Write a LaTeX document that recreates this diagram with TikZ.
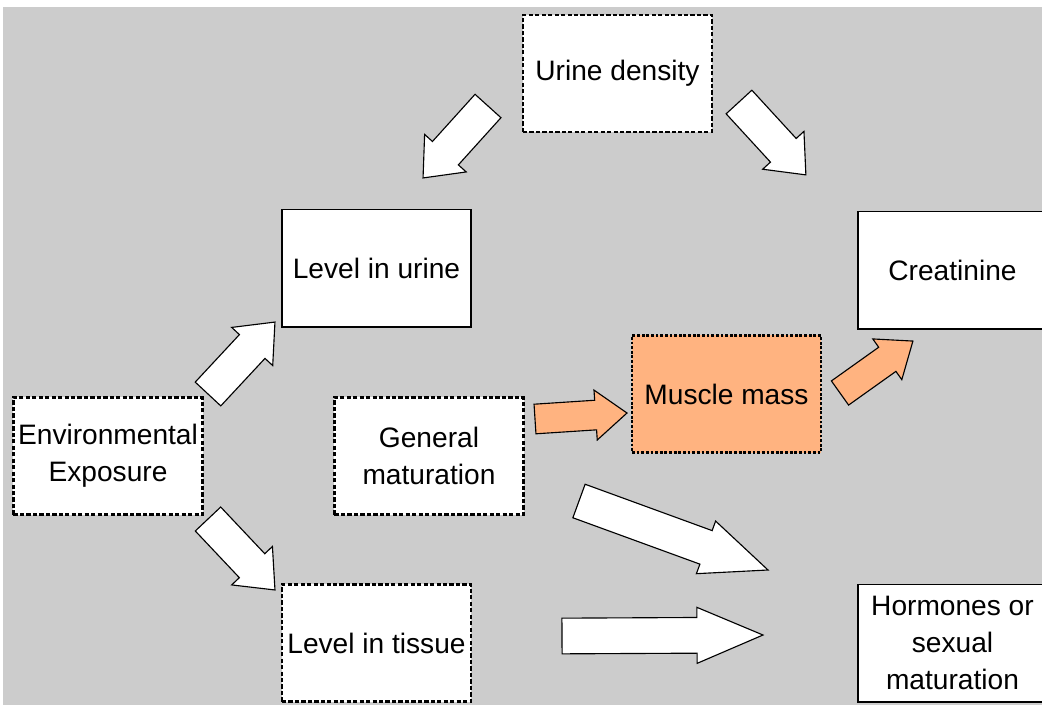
\documentclass[tikz,border=0pt]{standalone}
\usepackage{fontspec}
\setmainfont{Liberation Sans}
\usetikzlibrary{positioning,calc,shapes.arrows}

\definecolor{bggray}{RGB}{204,204,204}
\definecolor{musclefill}{RGB}{255,179,128}

% block arrow from tail #3 to tip #4, named #2
\newcommand{\fatarrow}[4][]{%
  \path let \p1=($(#4)-(#3)$), \n1={atan2(\y1,\x1)}, \n2={veclen(\x1,\y1)} in
    node[#1, rotate=\n1, minimum height=\n2, anchor=tail] (#2) at (#3) {};%
}

\begin{document}
\begin{tikzpicture}[x=0.025cm, y=-0.025cm,
solidbox/.style={draw, line width=1.4pt, fill=white, minimum width=4.725cm, minimum height=2.925cm, inner sep=2pt, align=center, font=\fontsize{20}{26.5}\selectfont},
dashedbox/.style={solidbox, line width=1.5pt, dash pattern=on 3pt off 1.6pt},
fatarrow/.style={single arrow, draw, line width=0.8pt, fill=white, inner xsep=0pt, outer sep=0pt},
smallarrow/.style={fatarrow, inner ysep=0.4cm, minimum width=1.4cm, single arrow tip angle=80},
bigarrow/.style={fatarrow, inner ysep=0.425cm, minimum width=1.4cm, single arrow tip angle=46},
musclearrow/.style={fatarrow, fill=musclefill, inner ysep=0.35cm, minimum width=1.25cm, single arrow tip angle=77},
]
\useasboundingbox (0,0) rectangle (1042,705);
\fill[bggray] (3,7) rectangle (1042,705);

% boxes
\node[dashedbox] (density) at (617.5,73.5) {Urine density};
\node[solidbox] (urine) at (376.5,268) {Level in urine};
\node[solidbox] (creatinine) at (952.5,270) {Creatinine};
\node[dashedbox, fill=musclefill, dash pattern=on 2pt off 1.3pt] (muscle) at (726.5,394) {Muscle mass};
\node[dashedbox] (maturation) at (429,456) {General\\maturation};
\node[dashedbox] (exposure) at (108,456) {Environmental\\Exposure};
\node[dashedbox] (tissue) at (376.5,643) {Level in tissue};
\node[solidbox] (hormones) at (952.5,643) {Hormones or\\sexual\\maturation};

% arrow ends
\coordinate (densityleft) at (488,106);
\coordinate (urinetop) at (423,178);
\coordinate (densityright) at (739,102);
\coordinate (creatininetop) at (806,175);
\coordinate (exposureup) at (208,394);
\coordinate (urineleft) at (275,322);
\coordinate (exposuredown) at (208,519);
\coordinate (tissueleft) at (275,590);
\coordinate (maturationright) at (535,419);
\coordinate (muscleleft) at (627,413);
\coordinate (muscleright) at (840,393);
\coordinate (creatininebottom) at (913,341);
\coordinate (maturationdown) at (579,501);
\coordinate (hormonesup) at (768,570);
\coordinate (tissueright) at (562,636);
\coordinate (hormonesleft) at (763,635);

% arrows
\fatarrow[smallarrow]{density2urine}{densityleft}{urinetop}
\fatarrow[smallarrow]{density2creat}{densityright}{creatininetop}
\fatarrow[smallarrow]{expo2urine}{exposureup}{urineleft}
\fatarrow[smallarrow]{expo2tissue}{exposuredown}{tissueleft}
\fatarrow[musclearrow]{matur2muscle}{maturationright}{muscleleft}
\fatarrow[musclearrow]{muscle2creat}{muscleright}{creatininebottom}
\fatarrow[bigarrow]{matur2horm}{maturationdown}{hormonesup}
\fatarrow[bigarrow]{tissue2horm}{tissueright}{hormonesleft}
\end{tikzpicture}
\end{document}
